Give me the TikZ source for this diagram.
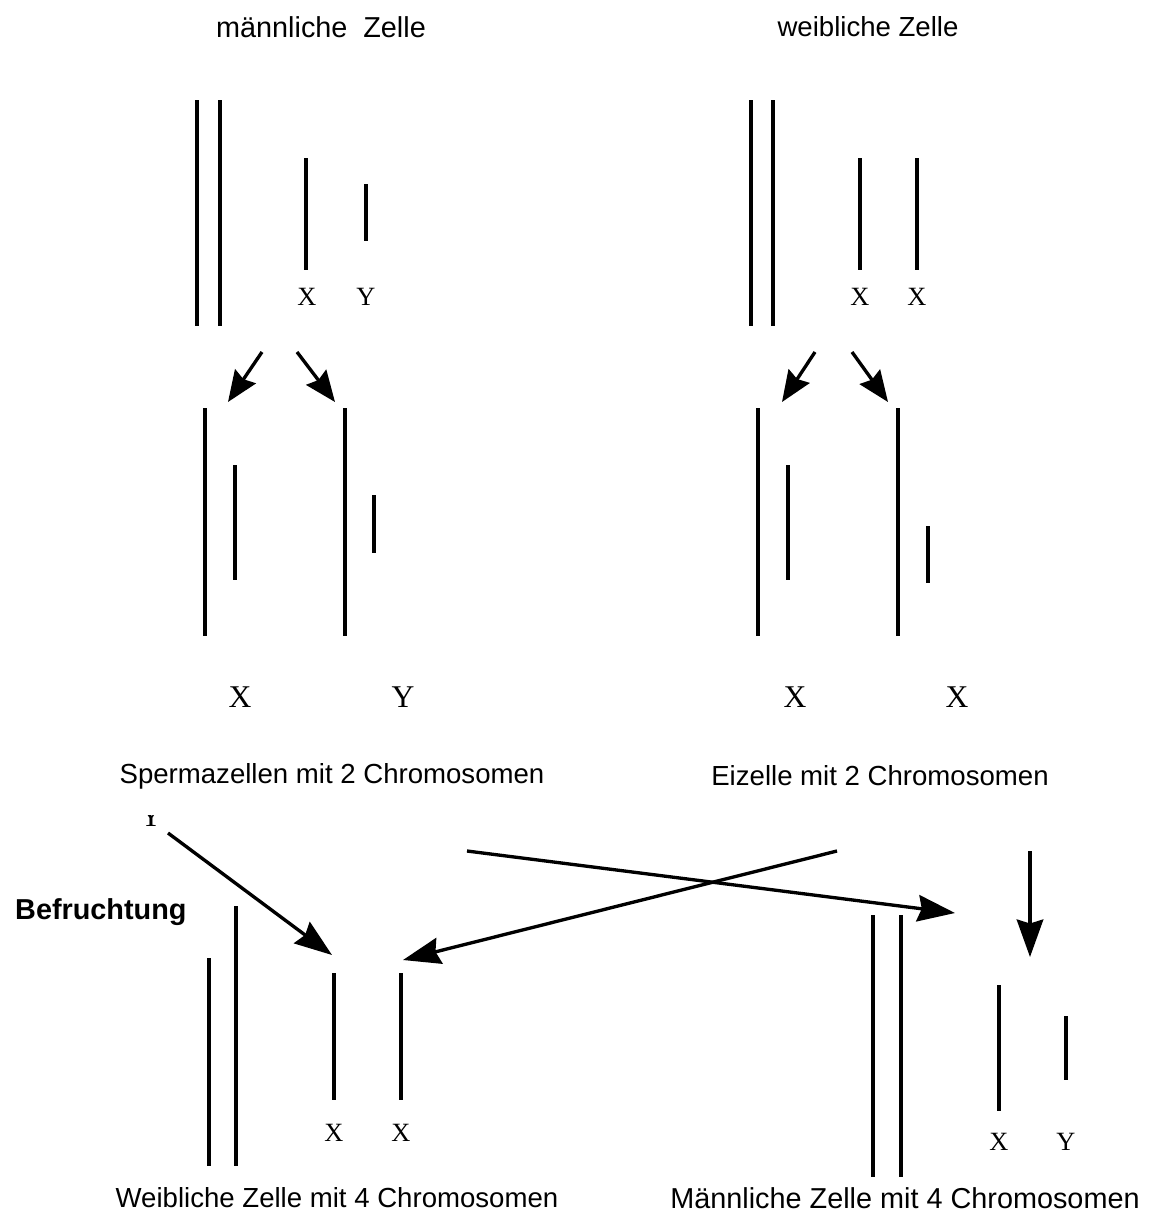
\documentclass[tikz,border=0pt]{standalone}
\usepackage{fontspec}
\setmainfont{Liberation Sans}
\newfontfamily\chromfont{Liberation Serif}
\usetikzlibrary{arrows.meta}

\begin{document}
\begin{tikzpicture}[x=0.2mm,y=-0.2mm,
	chrom/.style={line width=1.9pt},
	pfeil/.style={line width=1.9pt,-{Stealth[length=7.5mm,width=5.3mm,inset=0.8mm]}},
	kpfeil/.style={line width=1.9pt,-{Stealth[length=6.2mm,width=5mm,inset=0.7mm]}},
	titel/.style={font=\fontsize{15.7}{18}\selectfont},
	klein/.style={font=\chromfont\fontsize{15}{18}\selectfont},
	gross/.style={font=\chromfont\fontsize{18}{21}\selectfont}]
	\useasboundingbox (0,0) rectangle (1149,1218);

	% Ueberschriften
	\node[titel,font=\fontsize{16.4}{19}\selectfont] at (321,27) (mz) {männliche\hspace{0.55em}Zelle};
	\node[titel] at (868,27) (wz) {weibliche Zelle};

	% maennliche Zelle
	\draw[chrom] (197,100) -- (197,326);
	\draw[chrom] (220,100) -- (220,326);
	\draw[chrom] (306,158) -- (306,270);
	\draw[chrom] (366,184) -- (366,241);
	\node[klein] at (307,297) (mx) {X};
	\node[klein] at (366,297) (my) {Y};

	% weibliche Zelle
	\draw[chrom] (751,100) -- (751,326);
	\draw[chrom] (773,100) -- (773,326);
	\draw[chrom] (860,158) -- (860,270);
	\draw[chrom] (917,158) -- (917,270);
	\node[klein] at (860,297) (wx1) {X};
	\node[klein] at (917,297) (wx2) {X};

	% Teilung
	\coordinate (m0) at (262,352);
	\coordinate (m1) at (297,352);
	\coordinate (sx) at (228,402);
	\coordinate (sy) at (335,402);
	\draw[kpfeil] (m0) -- (sx);
	\draw[kpfeil] (m1) -- (sy);
	\coordinate (w0) at (815,352);
	\coordinate (w1) at (852,352);
	\coordinate (ex1) at (782,402);
	\coordinate (ex2) at (888,402);
	\draw[kpfeil] (w0) -- (ex1);
	\draw[kpfeil] (w1) -- (ex2);

	% Spermazellen
	\draw[chrom] (205,408) -- (205,636);
	\draw[chrom] (235,465) -- (235,580);
	\draw[chrom] (345,408) -- (345,636);
	\draw[chrom] (374,495) -- (374,553);
	\node[gross] at (240,697) (sxl) {X};
	\node[gross] at (403,697) (syl) {Y};

	% Eizellen
	\draw[chrom] (758,408) -- (758,636);
	\draw[chrom] (788,465) -- (788,580);
	\draw[chrom] (898,408) -- (898,636);
	\draw[chrom] (928,526) -- (928,583);
	\node[gross] at (795,697) (exl1) {X};
	\node[gross] at (957,697) (exl2) {X};

	\node[titel] at (332,776) (sp) {Spermazellen mit 2 Chromosomen};
	\node[titel] at (880,776) (ei) {Eizelle mit 2 Chromosomen};

	% Rest eines Buchstabens
	\begin{scope}
		\clip (140,815) rectangle (162,833);
		\node[gross] at (151,816) (rest) {Y};
	\end{scope}

	% Befruchtung
	\node[titel,font=\fontsize{16.4}{19}\selectfont\bfseries,anchor=west] at (9,912) (bf) {Befruchtung};
	\coordinate (a1) at (168,833);
	\coordinate (a2) at (467,851);
	\coordinate (a3) at (837,851);
	\coordinate (a4) at (1030,851);
	\coordinate (zw1) at (332,955);
	\coordinate (zw2) at (403,960);
	\coordinate (zm1) at (955,913);
	\coordinate (zm2) at (1030,957);
	\draw[pfeil] (a1) -- (zw1);
	\draw[pfeil] (a3) -- (zw2);
	\draw[pfeil] (a2) -- (zm1);
	\draw[pfeil] (a4) -- (zm2);

	% weibliche Zelle mit 4 Chromosomen
	\draw[chrom] (209,958) -- (209,1166);
	\draw[chrom] (236,906) -- (236,1166);
	\draw[chrom] (334,973) -- (334,1100);
	\draw[chrom] (401,973) -- (401,1100);
	\node[klein] at (334,1133) (wxa) {X};
	\node[klein] at (401,1133) (wxb) {X};

	% maennliche Zelle mit 4 Chromosomen
	\draw[chrom] (873,915) -- (873,1177);
	\draw[chrom] (901,915) -- (901,1177);
	\draw[chrom] (999,985) -- (999,1111);
	\draw[chrom] (1066,1016) -- (1066,1080);
	\node[klein] at (999,1142) (mxa) {X};
	\node[klein] at (1066,1142) (mya) {Y};

	\node[titel] at (337,1198) (wv) {Weibliche Zelle mit 4 Chromosomen};
	\node[titel,font=\fontsize{16.4}{19}\selectfont] at (905,1198) (mv) {Männliche Zelle mit 4 Chromosomen};
\end{tikzpicture}
\end{document}
